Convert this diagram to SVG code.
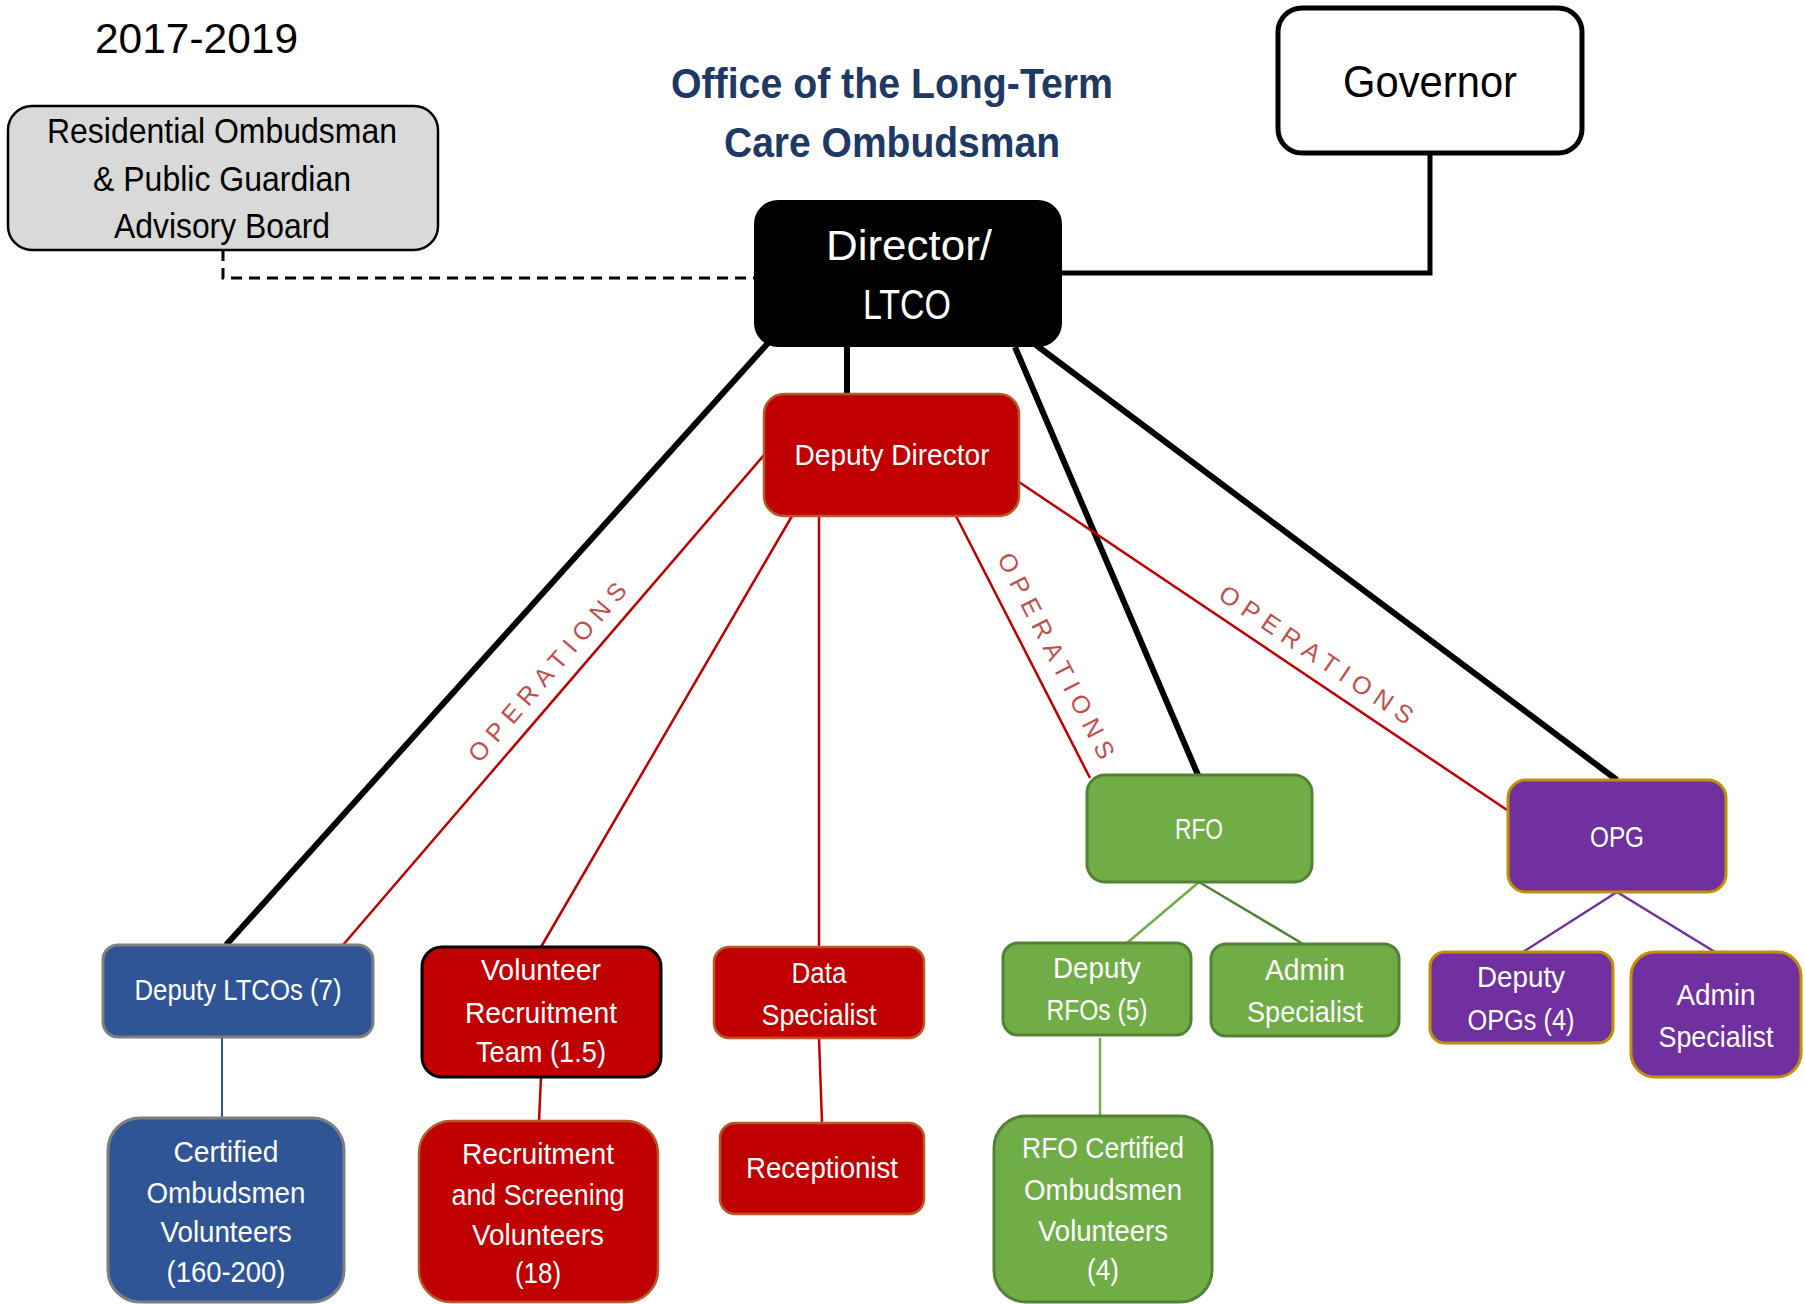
<svg xmlns="http://www.w3.org/2000/svg" width="1805" height="1304" viewBox="0 0 1805 1304">
  <style>
    text { font-family: "Liberation Sans", Arial, sans-serif; }
    .lbl { fill: #ffffff; font-size: 29px; text-anchor: middle; }
    .big { font-size: 42px; }
    .title { fill: #203864; font-size: 43px; font-weight: bold; text-anchor: middle; }
    .ops { fill: #c0504d; font-size: 25px; text-anchor: middle; letter-spacing: 7.3px; }
    .blk { stroke: #000000; stroke-width: 6; fill: none; }
    .red { stroke: #c00000; stroke-width: 2.5; fill: none; }
    .blue { stroke: #2f5597; stroke-width: 2; fill: none; }
    .grn { stroke: #70ad47; stroke-width: 2.5; fill: none; }
    .dgrn { stroke: #548235; stroke-width: 2.5; fill: none; }
    .pur { stroke: #7030a0; stroke-width: 2.5; fill: none; }
    .boxRed { fill: #c00000; stroke: #b35a26; stroke-width: 2.5; }
    .boxBlue { fill: #2f5597; stroke: #7f7f7f; stroke-width: 3; }
    .boxGrn { fill: #70ad47; stroke: #548235; stroke-width: 3; }
    .boxPur { fill: #7030a0; stroke: #bf9000; stroke-width: 3; }
  </style>

  <!-- heading texts -->
  <text x="95" y="53" font-size="43" textLength="203" lengthAdjust="spacingAndGlyphs" fill="#000">2017-2019</text>
  <text class="title" x="892" y="98" textLength="442" lengthAdjust="spacingAndGlyphs">Office of the Long-Term</text>
  <text class="title" x="892" y="157" textLength="336" lengthAdjust="spacingAndGlyphs">Care Ombudsman</text>

  <!-- connectors -->
  <g id="connectors">
    <!-- advisory (dashed) -->
    <path d="M223,250 V278 H754" fill="none" stroke="#000" stroke-width="3" stroke-dasharray="11 7"/>
    <!-- governor -->
    <path d="M1062,273 H1430 V154" fill="none" stroke="#000" stroke-width="5"/>
    <!-- director lines -->
    <line class="blk" stroke-width="5" x1="847" y1="347" x2="847" y2="394"/>
    <line class="blk" x1="768" y1="343" x2="226" y2="945"/>
    <line class="blk" x1="1015" y1="347" x2="1198" y2="775"/>
    <line class="blk" x1="1036" y1="345" x2="1617" y2="780"/>
    <!-- deputy director lines -->
    <line class="red" x1="764" y1="455" x2="343" y2="945"/>
    <line class="red" x1="792" y1="516" x2="541" y2="947"/>
    <line class="red" x1="819" y1="516" x2="819" y2="947"/>
    <line class="red" x1="956" y1="516" x2="1090" y2="778"/>
    <line class="red" x1="1019" y1="482" x2="1507" y2="810"/>
    <!-- lower level -->
    <line class="blue" x1="222" y1="1037" x2="222" y2="1118"/>
    <line class="red" x1="541" y1="1077" x2="539" y2="1121"/>
    <line class="red" x1="819" y1="1038" x2="822" y2="1123"/>
    <line class="grn" x1="1199" y1="882" x2="1127" y2="943"/>
    <line class="dgrn" x1="1199" y1="882" x2="1303" y2="944"/>
    <line class="grn" x1="1100" y1="1038" x2="1100" y2="1116"/>
    <line class="pur" x1="1617" y1="892" x2="1523" y2="952"/>
    <line class="pur" x1="1617" y1="892" x2="1715" y2="952"/>
    <!-- connector labels -->
    <g transform="translate(564.4,686.9) rotate(-49.3)">
      <text class="ops" x="3.7" y="-14">OPERATIONS</text>
    </g>
    <g transform="translate(1033.4,667.4) rotate(62.9)">
      <text class="ops" x="3.7" y="-17">OPERATIONS</text>
    </g>
    <g transform="translate(1303.7,673.4) rotate(33.9)">
      <text class="ops" x="3.7" y="-14">OPERATIONS</text>
    </g>
  </g>

  <g id="advisory-board">
    <rect x="8" y="106" width="430" height="144" rx="24" fill="#d9d9d9" stroke="#000" stroke-width="2.5"/>
    <text x="222" y="143" font-size="35" text-anchor="middle" textLength="350" lengthAdjust="spacingAndGlyphs">Residential Ombudsman</text>
    <text x="222" y="191" font-size="35" text-anchor="middle" textLength="258" lengthAdjust="spacingAndGlyphs">&amp; Public Guardian</text>
    <text x="222" y="238" font-size="35" text-anchor="middle" textLength="216" lengthAdjust="spacingAndGlyphs">Advisory Board</text>
  </g>

  <g id="governor">
    <rect x="1278" y="8" width="304" height="145" rx="24" fill="#fff" stroke="#000" stroke-width="5"/>
    <text x="1430" y="97" font-size="44" text-anchor="middle" textLength="174" lengthAdjust="spacingAndGlyphs">Governor</text>
  </g>

  <g id="director">
    <rect x="754" y="200" width="308" height="147" rx="24" fill="#000"/>
    <text class="lbl big" x="909" y="260" textLength="166" lengthAdjust="spacingAndGlyphs">Director/</text>
    <text class="lbl big" x="907" y="319" textLength="88" lengthAdjust="spacingAndGlyphs">LTCO</text>
  </g>

  <g id="deputy-director">
    <rect class="boxRed" x="764" y="394" width="255" height="122" rx="20"/>
    <text class="lbl" x="892" y="465" textLength="195" lengthAdjust="spacingAndGlyphs">Deputy Director</text>
  </g>

  <g id="deputy-ltcos">
    <rect class="boxBlue" x="103" y="945" width="270" height="92" rx="15"/>
    <text class="lbl" x="238" y="1000" textLength="207" lengthAdjust="spacingAndGlyphs">Deputy LTCOs (7)</text>
  </g>

  <g id="certified-volunteers">
    <rect class="boxBlue" x="108" y="1118" width="236" height="184" rx="32"/>
    <text class="lbl" x="226" y="1162" textLength="105" lengthAdjust="spacingAndGlyphs">Certified</text>
    <text class="lbl" x="226" y="1203" textLength="159" lengthAdjust="spacingAndGlyphs">Ombudsmen</text>
    <text class="lbl" x="226" y="1242" textLength="131" lengthAdjust="spacingAndGlyphs">Volunteers</text>
    <text class="lbl" x="226" y="1282" textLength="119" lengthAdjust="spacingAndGlyphs">(160-200)</text>
  </g>

  <g id="volunteer-recruitment">
    <rect x="422" y="947" width="239" height="130" rx="20" fill="#c00000" stroke="#000" stroke-width="3"/>
    <text class="lbl" x="541" y="980" textLength="120" lengthAdjust="spacingAndGlyphs">Volunteer</text>
    <text class="lbl" x="541" y="1023" textLength="152" lengthAdjust="spacingAndGlyphs">Recruitment</text>
    <text class="lbl" x="541" y="1062" textLength="130" lengthAdjust="spacingAndGlyphs">Team (1.5)</text>
  </g>

  <g id="recruitment-screening">
    <rect class="boxRed" x="419" y="1121" width="239" height="181" rx="32"/>
    <text class="lbl" x="538" y="1164" textLength="152" lengthAdjust="spacingAndGlyphs">Recruitment</text>
    <text class="lbl" x="538" y="1205" textLength="173" lengthAdjust="spacingAndGlyphs">and Screening</text>
    <text class="lbl" x="538" y="1245" textLength="132" lengthAdjust="spacingAndGlyphs">Volunteers</text>
    <text class="lbl" x="538" y="1283" textLength="46" lengthAdjust="spacingAndGlyphs">(18)</text>
  </g>

  <g id="data-specialist">
    <rect class="boxRed" x="714" y="947" width="210" height="91" rx="15"/>
    <text class="lbl" x="819" y="983" textLength="55" lengthAdjust="spacingAndGlyphs">Data</text>
    <text class="lbl" x="819" y="1025" textLength="115" lengthAdjust="spacingAndGlyphs">Specialist</text>
  </g>

  <g id="receptionist">
    <rect class="boxRed" x="720" y="1123" width="204" height="91" rx="15"/>
    <text class="lbl" x="822" y="1178" textLength="152" lengthAdjust="spacingAndGlyphs">Receptionist</text>
  </g>

  <g id="rfo">
    <rect class="boxGrn" x="1087" y="775" width="225" height="107" rx="18"/>
    <text class="lbl" x="1199" y="839" textLength="48" lengthAdjust="spacingAndGlyphs">RFO</text>
  </g>

  <g id="deputy-rfos">
    <rect class="boxGrn" x="1003" y="943" width="188" height="92" rx="15"/>
    <text class="lbl" x="1097" y="978" textLength="88" lengthAdjust="spacingAndGlyphs">Deputy</text>
    <text class="lbl" x="1097" y="1020" textLength="101" lengthAdjust="spacingAndGlyphs">RFOs (5)</text>
  </g>

  <g id="rfo-admin">
    <rect class="boxGrn" x="1211" y="944" width="188" height="92" rx="15"/>
    <text class="lbl" x="1305" y="980" textLength="80" lengthAdjust="spacingAndGlyphs">Admin</text>
    <text class="lbl" x="1305" y="1022" textLength="116" lengthAdjust="spacingAndGlyphs">Specialist</text>
  </g>

  <g id="rfo-certified">
    <rect class="boxGrn" x="994" y="1116" width="218" height="186" rx="32"/>
    <text class="lbl" x="1103" y="1158" textLength="162" lengthAdjust="spacingAndGlyphs">RFO Certified</text>
    <text class="lbl" x="1103" y="1200" textLength="158" lengthAdjust="spacingAndGlyphs">Ombudsmen</text>
    <text class="lbl" x="1103" y="1241" textLength="130" lengthAdjust="spacingAndGlyphs">Volunteers</text>
    <text class="lbl" x="1103" y="1280" textLength="32" lengthAdjust="spacingAndGlyphs">(4)</text>
  </g>

  <g id="opg">
    <rect class="boxPur" x="1508" y="780" width="218" height="112" rx="18"/>
    <text class="lbl" x="1617" y="847" textLength="54" lengthAdjust="spacingAndGlyphs">OPG</text>
  </g>

  <g id="deputy-opgs">
    <rect class="boxPur" x="1430" y="952" width="183" height="91" rx="15"/>
    <text class="lbl" x="1521" y="987" textLength="88" lengthAdjust="spacingAndGlyphs">Deputy</text>
    <text class="lbl" x="1521" y="1030" textLength="107" lengthAdjust="spacingAndGlyphs">OPGs (4)</text>
  </g>

  <g id="opg-admin">
    <rect class="boxPur" x="1631" y="952" width="170" height="125" rx="24"/>
    <text class="lbl" x="1716" y="1005" textLength="79" lengthAdjust="spacingAndGlyphs">Admin</text>
    <text class="lbl" x="1716" y="1047" textLength="115" lengthAdjust="spacingAndGlyphs">Specialist</text>
  </g>
</svg>
